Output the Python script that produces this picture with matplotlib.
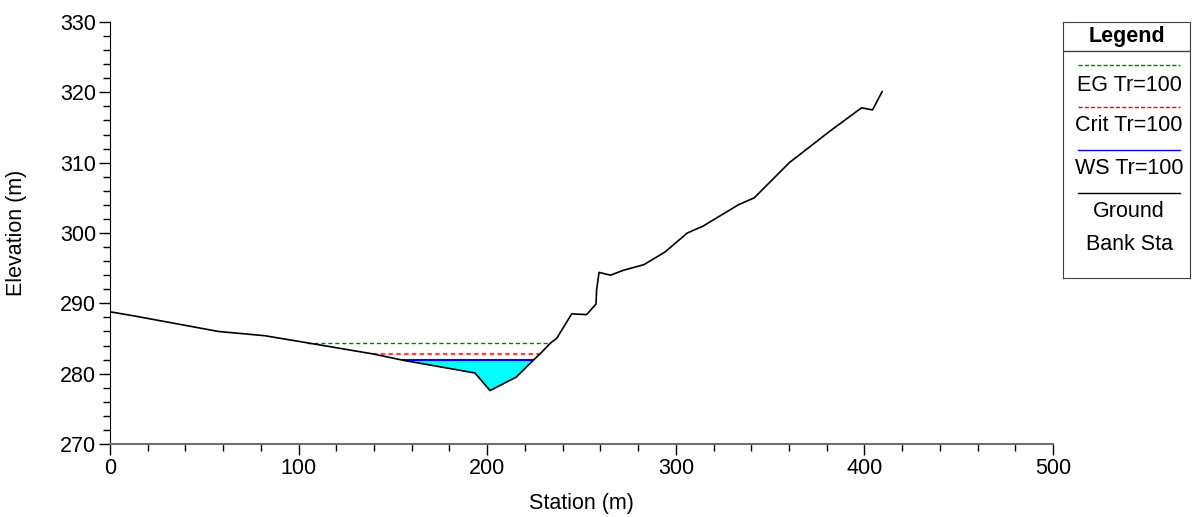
import matplotlib
matplotlib.use("Agg")
import matplotlib.pyplot as plt
import numpy as np
from matplotlib.ticker import MultipleLocator

plt.rcParams['font.family'] = ['Liberation Sans', 'DejaVu Sans']

# Ground profile
station = [0, 13, 57.5, 82, 104.3, 139.6, 155.5, 193.5, 201.5, 215.3, 224.4, 228,
           233.7, 236.8, 244.8, 252.7, 257.7, 258.0, 259.3, 265.4, 272.2, 283.1,
           294.3, 306.1, 314.6, 333.1, 341.6, 360.2, 381.8, 398.5, 404.3, 409.4]
ground = [288.8, 288.2, 286.0, 285.4, 284.4, 282.8, 281.9, 280.1, 277.6, 279.5, 281.9, 282.8,
          284.4, 285.0, 288.5, 288.4, 289.9, 291.9, 294.4, 294.0, 294.7, 295.5,
          297.3, 300.0, 301.0, 304.0, 305.0, 310.0, 314.5, 317.8, 317.5, 320.1]

# Water levels (elevation, left station, right station)
eg_elev, eg_x = 284.4, [104.3, 233.7]
crit_elev, crit_x = 282.8, [139.6, 228.0]
ws_elev, ws_x = 281.9, [155.5, 224.4]

legend_labels = ["EG Tr=100", "Crit Tr=100", "WS Tr=100", "Ground", "Bank Sta"]

FS = 15.5

fig = plt.figure(figsize=(11.92, 5.17), dpi=100)
ax = fig.add_axes([110/1192, 1-444/517, (1053-110)/1192, (444-22)/517])

st = np.array(station); gr = np.array(ground)
ax.fill_between(st, gr, ws_elev, where=(gr <= ws_elev) & (st >= ws_x[0]) & (st <= ws_x[1]),
                interpolate=True, color='#00ffff', lw=0, zorder=1)
ax.plot(eg_x, [eg_elev]*2, color='#008000', ls=(0, (3, 2)), lw=1, zorder=2)
ax.plot(crit_x, [crit_elev]*2, color='#ff4040', ls=(0, (2, 1.5)), lw=1.6, zorder=2)
ax.plot(ws_x, [ws_elev]*2, color='#0000ff', lw=1.5, zorder=3)
ax.plot(station, ground, color='black', lw=1.2, zorder=4)

ax.set_xlim(0, 500)
ax.set_ylim(270, 330)
ax.xaxis.set_major_locator(MultipleLocator(100))
ax.xaxis.set_minor_locator(MultipleLocator(20))
ax.yaxis.set_major_locator(MultipleLocator(10))
ax.yaxis.set_minor_locator(MultipleLocator(2))
for s in ['top', 'right']:
    ax.spines[s].set_visible(False)
ax.spines['bottom'].set_color('#707070')
ax.spines['bottom'].set_linewidth(1.5)
ax.spines['left'].set_color('black')
ax.tick_params(which='major', length=8, width=1, labelsize=FS, color='black', pad=2)
ax.tick_params(which='minor', length=5, width=1, color='black')
ax.set_xlabel("Station (m)", fontsize=FS)
ax.xaxis.set_label_coords(0.5, -0.115)
ax.set_ylabel("Elevation (m)", fontsize=FS)
ax.yaxis.set_label_coords(-0.088, 0.5)

# Legend box
lax = fig.add_axes([1063/1192, 1-278/517, (1190-1063)/1192, (278-22)/517])
lax.set_xlim(0, 1); lax.set_ylim(256, 0)
lax.set_xticks([]); lax.set_yticks([])
for s in lax.spines.values():
    s.set_color('#404040')
lax.text(0.5, 14, "Legend", ha='center', va='center', fontsize=FS, fontweight='bold')
lax.axhline(29, color='#404040', lw=1)
styles = [dict(color='#008000', ls=(0, (3, 1.5)), lw=1),
          dict(color='#ff0000', ls=(0, (3, 1.5)), lw=1),
          dict(color='#0000ff', lw=1),
          dict(color='black', lw=1)]
line_y = [42.5, 85, 128, 171]
text_y = [63.5, 103.5, 146.5, 189.5, 222.5]
for y, stl in zip(line_y, styles):
    lax.plot([0.12, 0.92], [y, y], **stl)
for y, lab in zip(text_y, legend_labels):
    lax.text(0.52, y, lab, ha='center', va='center', fontsize=FS)

fig.savefig("out.png", dpi=100)
